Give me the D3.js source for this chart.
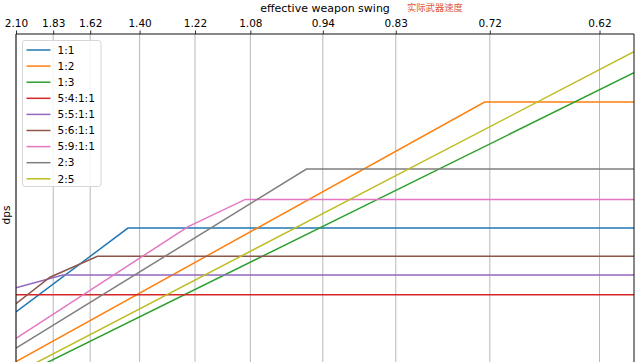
<!DOCTYPE html>
<html>
<head>
<meta charset="utf-8">
<script src="https://cdn.jsdelivr.net/npm/d3@7"></script>
<style>
  body { margin: 0; background: #fff; }
  svg { display: block; font-family: "DejaVu Sans", sans-serif; }
</style>
</head>
<body>
<div id="chart"></div>
<script>
// tick labels of the top axis (weapon swing, seconds)
const tickSwing = [2.10, 1.8251, 1.6151, 1.40, 1.218, 1.078, 0.937, 0.828, 0.72, 0.6249];

// series: name, swing breakpoints, dps at those breakpoints
const seriesNames = ["1:1", "1:2", "1:3", "5:4:1:1", "5:5:1:1", "5:6:1:1", "5:9:1:1", "2:3", "2:5"];
const seriesSwing = [
    [2.10, 1.4455, 0.600],
    [2.10, 0.7252, 0.600],
    [2.10, 0.600],
    [2.10, 0.600],
    [2.10, 1.7647, 0.600],
    [2.10, 1.8462, 1.5796, 0.600],
    [2.10, 1.2378, 1.0894, 0.600],
    [2.10, 0.9655, 0.600],
    [2.10, 0.600]
];
const seriesDps = [
    [23.2, 46.4, 46.4],
    [9.5, 81.2, 81.2],
    [5.0, 89.3],
    [28.0, 28.0],
    [29.9, 33.4, 33.4],
    [25.5, 32.8, 38.6, 38.6],
    [15.9, 46.8, 54.3, 54.3],
    [13.2, 62.7, 62.7],
    [6.3, 95.1]
];
const colors = ["#1f77b4", "#ff7f0e", "#2ca02c", "#d62728", "#9467bd", "#8c564b", "#e377c2", "#7f7f7f", "#bcbd22"];

const width = 640;
const height = 362;
const margin = {top: 34, left: 16, right: 6};
const innerWidth = width - margin.left - margin.right;
const innerHeight = 362; // axes run below the picture edge

// x is linear in swings per second
const xScale = d3.scaleLinear()
    .domain([1 / 2.10, 1 / 0.600])
    .range([0, innerWidth]);
const x = swing => xScale(1 / swing);

const yScale = d3.scaleLinear()
    .domain([0, 100])
    .range([innerHeight, 0]);

const svg = d3.select("#chart")
    .append("svg")
    .attr("width", width)
    .attr("height", height);

svg.append("defs").append("clipPath")
    .attr("id", "plot-clip")
    .append("rect")
    .attr("width", innerWidth)
    .attr("height", innerHeight);

const innerChart = svg.append("g")
    .attr("transform", `translate(${margin.left}, ${margin.top})`);

// vertical grid
innerChart.append("g")
    .selectAll("line")
    .data(tickSwing)
    .join("line")
    .attr("x1", d => x(d))
    .attr("x2", d => x(d))
    .attr("y1", 0)
    .attr("y2", innerHeight)
    .attr("stroke", "#b0b0b0")
    .attr("stroke-width", 0.9);

// lines
const line = d3.line()
    .x(d => x(d[0]))
    .y(d => yScale(d[1]));

innerChart.append("g")
    .attr("clip-path", "url(#plot-clip)")
    .selectAll("path")
    .data(seriesNames.map((name, i) => d3.zip(seriesSwing[i], seriesDps[i])))
    .join("path")
    .attr("d", line)
    .attr("fill", "none")
    .attr("stroke", (d, i) => colors[i])
    .attr("stroke-width", 1.5);

// top axis
const topAxis = d3.axisTop(xScale)
    .tickValues(tickSwing.map(s => 1 / s))
    .tickFormat(r => d3.format(".2f")(1 / r))
    .tickSize(3.5)
    .tickPadding(4);

const axisG = innerChart.append("g").call(topAxis);
axisG.select(".domain").remove();
axisG.selectAll("text")
    .attr("font-size", 10.5)
    .attr("font-family", "DejaVu Sans, sans-serif")
    .attr("fill", "#000");
axisG.selectAll("line").attr("stroke", "#000").attr("stroke-width", 0.8);

// spines
innerChart.append("path")
    .attr("d", `M0,${innerHeight}V0H${innerWidth}V${innerHeight}`)
    .attr("fill", "none")
    .attr("stroke", "#111")
    .attr("stroke-width", 1);

// axis titles
svg.append("text")
    .text("effective weapon swing")
    .attr("x", margin.left + innerWidth / 2)
    .attr("y", 12)
    .attr("text-anchor", "middle")
    .attr("font-size", 11);

svg.append("text")
    .text("实际武器速度")
    .attr("x", 407)
    .attr("y", 11)
    .attr("font-size", 9.3)
    .attr("font-family", "Noto Sans CJK SC")
    .attr("fill", "#e05438");

svg.append("text")
    .text("dps")
    .attr("transform", `translate(10, ${margin.top + 181}) rotate(-90)`)
    .attr("text-anchor", "middle")
    .attr("font-size", 10.5);

// legend
const legend = svg.append("g")
    .attr("transform", "translate(22.5, 40.5)");

legend.append("rect")
    .attr("width", 78.5)
    .attr("height", 146)
    .attr("rx", 2.5)
    .attr("fill", "#fff")
    .attr("fill-opacity", 0.85)
    .attr("stroke", "#d6d6d6")
    .attr("stroke-width", 1);

const items = legend.selectAll("g.item")
    .data(seriesNames)
    .join("g")
    .attr("class", "item")
    .attr("transform", (d, i) => `translate(0, ${9.5 + i * 16.1})`);

items.append("line")
    .attr("x1", 4)
    .attr("x2", 28)
    .attr("stroke", (d, i) => colors[i])
    .attr("stroke-width", 1.5);

items.append("text")
    .text(d => d)
    .attr("x", 35)
    .attr("dy", "0.36em")
    .attr("font-size", 10.5);
</script>
</body>
</html>
